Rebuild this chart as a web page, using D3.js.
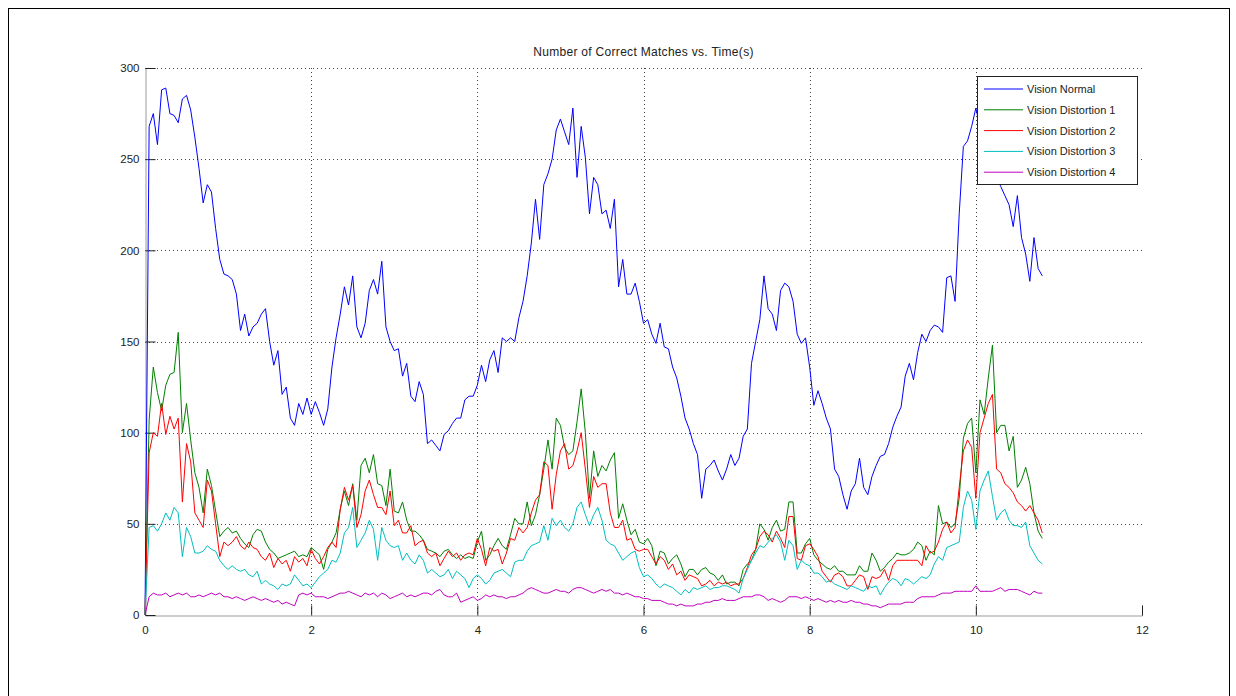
<!DOCTYPE html>
<html><head><meta charset="utf-8">
<script src="https://cdn.jsdelivr.net/npm/d3@7"></script>
<style>body{margin:0;background:#fff;}svg{display:block;}</style>
</head><body>
<svg id="c" width="1236" height="696"></svg>
<script>
const title = "Number of Correct Matches vs. Time(s)";
const seriesNames = ["Vision Normal","Vision Distortion 1","Vision Distortion 2","Vision Distortion 3","Vision Distortion 4"];
const seriesColors = ["#0000ff","#008000","#ff0000","#00bfbf","#bf00bf"];
const xTicks = [0,2,4,6,8,10,12];
const yTicks = [0,50,100,150,200,250,300];
const dt = 0.05; // sample step in seconds

const visionNormal = [0,268,275,258,288,289,275,274,270,283,285,277,262,245,226,236,232,212,195,187,186,184,176,156,165,153,158,160,165,168,150,137,145,121,125,108,104,116,110,119,110,117,111,
104,113,136,152,165,180,170,186,158,152,160,178,184,176,194,158,150,145,146,131,138,120,117,128,121,94,96,93,90,99,101,105,108,108,118,120,120,126,137,128,140,145,133,152,
150,152,150,163,172,186,204,228,206,236,242,250,266,272,265,258,278,240,268,251,220,240,236,220,222,212,228,180,195,176,176,182,172,160,162,154,149,160,147,146,136,130,120,108,102,
94,88,64,80,82,85,79,74,80,88,82,86,98,102,138,150,162,186,168,165,156,178,182,180,172,154,149,152,136,115,123,116,108,102,80,76,66,58,68,72,86,70,66,76,
82,87,88,94,103,109,114,131,138,129,144,154,150,156,159,158,155,185,186,172,220,257,260,268,278,268,262,252,246,240,235,230,225,213,230,207,198,183,207,190,186];

const visionD1 = [0,107,136,122,112,126,132,133,155,100,116,96,78,70,56,80,71,57,43,46,48,45,46,42,39,37,44,47,46,40,36,34,31,32,33,34,35,32,33,32,37,35,33,
25,36,40,45,58,68,60,72,52,82,86,78,88,72,71,60,80,57,56,62,52,46,46,44,41,36,35,34,32,35,36,33,31,33,31,32,31,40,46,30,33,38,42,38,
36,44,53,50,50,62,49,55,66,80,96,80,108,104,92,88,90,106,124,100,64,90,76,82,79,85,89,53,61,52,44,47,40,39,42,38,27,35,34,28,31,33,28,21,25,
25,22,25,26,23,22,19,22,17,18,18,16,25,28,30,36,50,47,41,48,52,46,47,62,62,34,34,39,42,33,30,28,26,25,27,24,24,22,22,22,27,24,24,34,
30,24,26,29,31,34,33,33,34,36,40,38,30,35,33,60,50,51,48,50,64,97,105,108,78,118,110,130,148,100,104,104,90,98,70,74,81,72,56,46,42];

const visionD2 = [0,89,100,98,116,99,109,102,108,62,94,84,56,52,48,74,68,50,32,40,38,40,43,38,36,40,37,36,32,30,34,26,31,28,30,24,32,29,31,27,36,31,28,
32,37,40,37,58,70,63,71,48,55,68,74,66,59,59,55,68,49,52,45,45,49,38,40,41,34,32,34,27,31,35,32,34,30,33,34,33,42,36,27,37,35,36,28,
34,42,41,48,45,48,56,63,66,84,82,58,77,90,94,80,82,90,100,80,59,76,70,72,72,56,48,48,52,41,42,36,35,36,36,32,28,32,30,25,28,22,24,19,22,
21,20,16,17,19,16,18,17,18,16,17,17,20,26,33,36,43,46,44,40,46,42,37,54,54,31,30,38,39,36,32,24,21,18,22,23,21,16,16,19,22,21,14,21,
20,21,25,19,27,30,30,30,30,30,30,27,38,34,35,40,47,51,45,48,70,90,96,92,64,100,108,116,121,80,78,72,70,67,62,60,57,60,56,52,45];

const visionD3 = [0,48,49,46,50,56,52,59,56,32,48,43,34,34,35,38,36,35,30,27,25,27,25,24,25,22,21,24,17,19,17,16,14,17,16,17,22,19,16,17,15,18,21,
23,25,30,29,34,45,48,59,37,41,45,52,47,30,48,41,38,37,38,30,34,30,28,33,30,23,25,23,21,22,25,20,24,22,20,15,20,22,20,17,19,23,24,25,
23,21,29,30,30,35,38,39,40,49,41,53,49,52,48,46,50,59,62,55,49,55,59,52,41,39,38,34,30,32,34,35,26,21,22,20,17,15,17,16,15,13,11,14,12,
15,14,15,16,14,15,15,16,16,15,14,12,20,25,30,34,38,37,40,42,44,40,30,41,38,25,30,28,27,23,23,21,18,19,17,16,15,14,16,15,14,13,16,15,
16,11,15,18,20,19,16,20,19,17,19,21,20,22,28,32,30,37,38,39,40,59,68,63,47,68,74,79,65,52,56,58,52,49,49,48,51,38,34,30,28];

const visionD4 = [0,10,12,11,11,12,10,11,12,11,12,10,10,11,10,11,12,11,12,10,10,9,10,9,8,9,10,9,8,9,8,7,8,6,7,6,5,11,12,11,12,10,10,
10,9,10,11,12,12,13,12,11,10,12,11,12,10,12,11,9,10,11,12,10,11,10,11,12,12,11,13,14,11,10,10,12,7,8,9,10,8,9,11,10,11,10,10,
9,10,10,11,12,14,15,14,13,12,12,13,14,13,13,12,14,15,15,14,13,12,13,14,13,14,12,12,11,12,11,10,10,9,9,8,8,8,7,6,6,5,6,5,5,
5,6,6,7,7,8,8,9,8,8,8,9,10,10,10,11,11,10,8,9,8,7,8,10,10,10,9,10,9,8,9,8,7,8,7,8,7,7,8,7,7,6,6,5,
5,4,5,6,6,6,6,7,7,7,9,10,10,10,10,11,12,12,12,13,13,13,13,13,16,13,13,13,13,14,15,13,14,14,14,13,12,11,13,12,12];

const allSeries = [visionNormal, visionD1, visionD2, visionD3, visionD4];

const svg = d3.select("#c");
const font = "'Liberation Sans', Arial, sans-serif";
const L = 145, R = 1142, T = 68, B = 615;

// outer figure frame
svg.append("rect").attr("x",8.5).attr("y",8.5).attr("width",1221).attr("height",700)
  .attr("fill","none").attr("stroke","#000").attr("stroke-width",1);

const x = d3.scaleLinear().domain([0,12]).range([L,R]);
const y = d3.scaleLinear().domain([0,300]).range([B,T]);

// grid
const grid = svg.append("g");
grid.selectAll("line.gx").data(xTicks.filter(v=>v>0 && v<12)).enter().append("line")
  .attr("x1",d=>Math.round(x(d))+0.5).attr("x2",d=>Math.round(x(d))+0.5)
  .attr("y1",T).attr("y2",B)
  .attr("stroke","#444").attr("stroke-width",1).attr("stroke-dasharray","1,3");
grid.selectAll("line.gy").data(yTicks.filter(v=>v>0)).enter().append("line")
  .attr("y1",d=>Math.round(y(d))+0.5).attr("y2",d=>Math.round(y(d))+0.5)
  .attr("x1",L).attr("x2",R)
  .attr("stroke","#444").attr("stroke-width",1).attr("stroke-dasharray","1,3");

// axes
const xAxis = d3.axisBottom(x).tickValues(xTicks).tickSize(-10).tickPadding(14).tickFormat(d3.format("d"));
const yAxis = d3.axisLeft(y).tickValues(yTicks).tickSize(-10).tickPadding(6).tickFormat(d3.format("d"));
const gx = svg.append("g").attr("transform",`translate(0,${B+0.5})`).call(xAxis);
const gy = svg.append("g").attr("transform",`translate(${L+0.5},0)`).call(yAxis);
[gx,gy].forEach(g=>{
  g.select(".domain").attr("stroke","#9a9a9a");
  g.selectAll(".tick line").attr("stroke","#222");
  g.selectAll(".tick text").attr("font-family",font).attr("font-size",11.5).attr("fill","#222");
});
gx.selectAll(".tick text").attr("dy","0.35em");

// series
const line = d3.line().x((d,i)=>x(i*dt)).y(d=>y(d));
allSeries.forEach((s,k)=>{
  svg.append("path").datum(s).attr("d",line)
    .attr("fill","none").attr("stroke",seriesColors[k]).attr("stroke-width",1)
    .attr("stroke-linejoin","round");
});

// title
svg.append("text").attr("x",(L+R)/2).attr("y",56).attr("text-anchor","middle")
  .attr("font-family",font).attr("font-size",12).attr("letter-spacing","0.3px")
  .attr("fill","#222").text(title);

// legend
const lg = svg.append("g");
lg.append("rect").attr("x",977.5).attr("y",76.5).attr("width",160).attr("height",108)
  .attr("fill","#fff").attr("stroke","#222").attr("stroke-width",1);
seriesNames.forEach((n,i)=>{
  const yy = 89 + i*20.8;
  lg.append("line").attr("x1",984).attr("x2",1023).attr("y1",yy).attr("y2",yy)
    .attr("stroke",seriesColors[i]).attr("stroke-width",1);
  lg.append("text").attr("x",1027).attr("y",yy+4).attr("font-family",font).attr("font-size",11)
    .attr("fill","#222").text(n);
});
</script>
</body></html>
